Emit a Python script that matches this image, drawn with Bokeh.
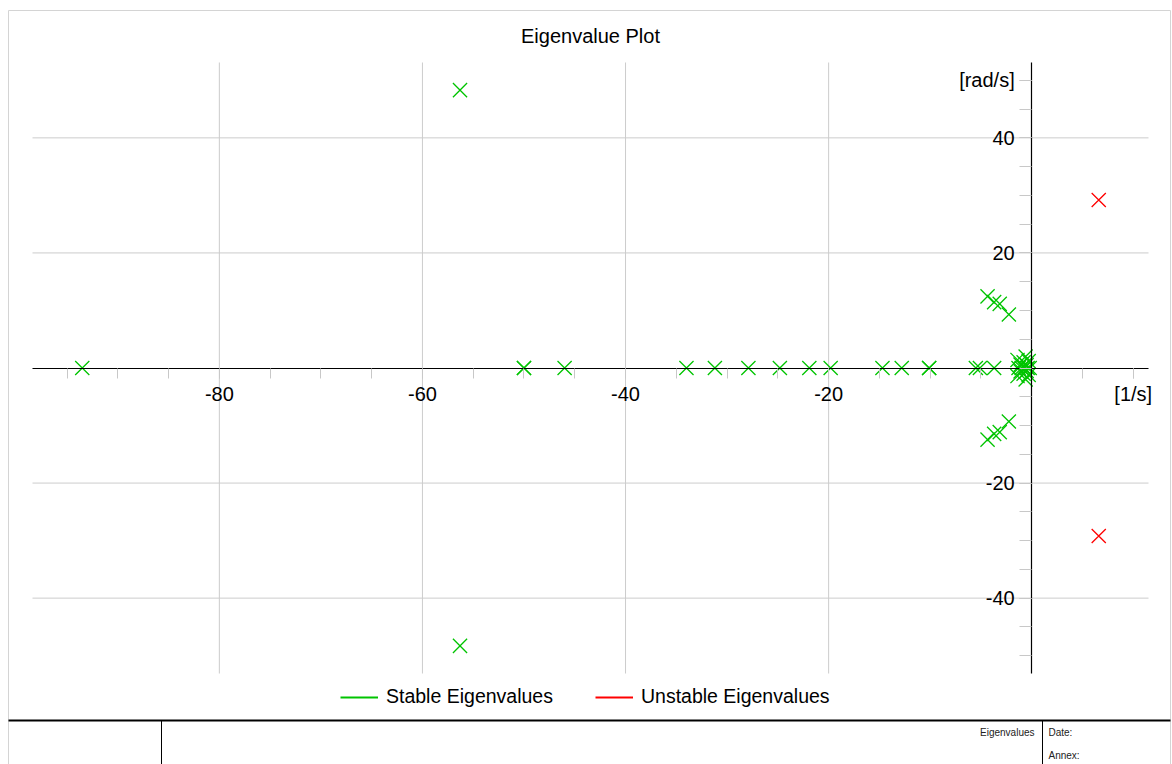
from bokeh.plotting import figure
from bokeh.models import FixedTicker, Legend, LegendItem, Range1d, ColumnDataSource, Label
from bokeh.core.properties import value
from bokeh.embed import file_html
from bokeh.resources import INLINE

# ---------------- data ----------------
stable_re = [-93.5, -50.0, -50.0, -46.0, -34.0, -31.2, -27.9, -24.8, -21.9, -19.8,
             -14.7, -12.8, -10.1, -10.1, -5.5, -5.1, -3.7,
             -56.3, -56.3,
             -4.35, -4.35, -3.7, -3.7, -3.15, -3.15, -2.25, -2.25,
             -1.3, -1.0, -0.7, -0.4, -0.2,
             -1.1, -1.1, -0.8, -0.8, -0.5, -0.5, -0.6, -0.6, -1.4, -1.4, -0.3, -0.3]
stable_im = [0, 0, 0, 0, 0, 0, 0, 0, 0, 0,
             0, 0, 0, 0, 0, 0, 0,
             48.3, -48.3,
             12.45, -12.45, 11.45, -11.45, 11.15, -11.15, 9.3, -9.3,
             0, 0, 0, 0, 0,
             0.6, -0.6, 1.0, -1.0, 0.5, -0.5, 2.0, -2.0, 1.4, -1.4, 1.2, -1.2]
unstable_re = [6.6, 6.6]
unstable_im = [29.2, -29.2]

x_tick_values = [-80, -60, -40, -20]
y_tick_values = [-40, -20, 20, 40]
x_unit_pos, x_unit_label = 10, "[1/s]"
y_unit_pos, y_unit_label = 50, "[rad/s]"
x_minor = list(range(-95, 11, 5))
y_minor = list(range(-50, 51, 5))
x_lo, x_hi = -98.4, 11.5
y_lo, y_hi = -53.1, 53.1

title_text = "Eigenvalue Plot"
legend_labels = ["Stable Eigenvalues", "Unstable Eigenvalues"]
block_texts = ["Eigenvalues", "Date:", "Annex:"]
green = "#00c400"
red = "#ff0000"
FONT = "Liberation Sans"

# ---------------- layout (pixels) ----------------
W, H = 1172, 764
PL, PR, PT, PB = 32, 1148, 62, 673       # plot area in canvas pixels
sx = (PR - PL) / (x_hi - x_lo)
sy = (PB - PT) / (y_hi - y_lo)
xr = Range1d(x_lo - PL / sx, x_hi + (W - PR) / sx)
yr = Range1d(y_lo - (H - PB) / sy, y_hi + PT / sy)

p = figure(width=W, height=H, output_backend="svg", toolbar_location=None,
           x_range=xr, y_range=yr,
           min_border=0, min_border_left=0, min_border_right=0,
           min_border_top=0, min_border_bottom=0)
p.extra_x_ranges = {"px": Range1d(0, W)}
p.extra_y_ranges = {"px": Range1d(H, 0)}
p.outline_line_color = None
p.background_fill_color = "white"
p.border_fill_color = "white"
p.grid.visible = False

def overrides(vals, extra_pos, extra_label):
    d = {}
    for v in vals:
        d[v] = str(v)
        d[str(v)] = str(v)
    d[extra_pos] = extra_label
    d[str(extra_pos)] = extra_label
    return d

xa = p.xaxis[0]
xa.fixed_location = 0
xa.bounds = (x_lo, x_hi)
xa.ticker = FixedTicker(ticks=x_tick_values + [x_unit_pos], minor_ticks=x_minor)
xa.major_label_overrides = overrides(x_tick_values, x_unit_pos, x_unit_label)
ya = p.yaxis[0]
ya.fixed_location = 0
ya.bounds = (y_lo, y_hi)
ya.ticker = FixedTicker(ticks=y_tick_values + [y_unit_pos], minor_ticks=y_minor)
ya.major_label_overrides = overrides(y_tick_values, y_unit_pos, y_unit_label)

for ax, tlen in ((xa, 10), (ya, 12)):
    ax.axis_line_color = "black"
    ax.axis_line_width = 1.2
    ax.major_tick_in = 0
    ax.minor_tick_in = 0
    ax.major_tick_out = tlen
    ax.minor_tick_out = tlen
    ax.major_tick_line_color = "#c8c8c8"
    ax.minor_tick_line_color = "#c8c8c8"
    ax.major_label_text_font = FONT
    ax.major_label_text_font_size = "20px"
    ax.major_label_text_color = "black"
    ax.major_label_standoff = 5

# grid lines at the major ticks, limited to the plot area
p.segment(x0=x_tick_values, y0=[y_lo] * len(x_tick_values),
          x1=x_tick_values, y1=[y_hi] * len(x_tick_values),
          line_color="#cccccc", line_width=1, level="underlay")
p.segment(x0=[x_lo] * len(y_tick_values), y0=y_tick_values,
          x1=[x_hi] * len(y_tick_values), y1=y_tick_values,
          line_color="#cccccc", line_width=1, level="underlay")

src_s = ColumnDataSource(dict(x=stable_re, y=stable_im))
src_u = ColumnDataSource(dict(x=unstable_re, y=unstable_im))
p.scatter("x", "y", source=src_s, marker="x", size=20, line_color=green, line_width=1.3)
p.scatter("x", "y", source=src_u, marker="x", size=20, line_color=red, line_width=1.3)

# title
p.add_layout(Label(x=590, y=35, x_range_name="px", y_range_name="px", text=title_text,
                   text_align="center", text_baseline="middle", text_font=FONT,
                   text_font_size="20px", text_color="black"))

# legend (line samples; renderers carry no visible points)
nan = float("nan")
l_s = p.line(x=[nan, nan], y=[nan, nan], line_color=green, line_width=2)
l_u = p.line(x=[nan, nan], y=[nan, nan], line_color=red, line_width=2)
legend = Legend(items=[LegendItem(label=legend_labels[0], renderers=[l_s]),
                       LegendItem(label=legend_labels[1], renderers=[l_u])],
                orientation="horizontal", location=(340, 56),
                glyph_width=38, glyph_height=20, label_standoff=8, spacing=42,
                padding=0, margin=0, border_line_color=None,
                background_fill_alpha=0,
                label_text_font=FONT, label_text_font_size="19.5px",
                label_text_color="black")
p.add_layout(legend)

# frame / title block lines (pixel coordinates)
p.segment(x0=[8, 8, 1170], y0=[10, 10, 10], x1=[1170, 8, 1170], y1=[10, H, H],
          line_color="#d4d4d4", line_width=1, x_range_name="px", y_range_name="px")
p.segment(x0=[8], y0=[720], x1=[1170], y1=[720], line_color="black", line_width=2,
          x_range_name="px", y_range_name="px")
p.segment(x0=[161, 1042], y0=[720, 720], x1=[161, 1042], y1=[H, H],
          line_color="black", line_width=1, x_range_name="px", y_range_name="px")
block_font = value(FONT)
p.text(x=[1034], y=[732], text=[block_texts[0]], text_align="right", text_baseline="middle",
       text_font=block_font, text_font_size="10px", text_color="#222222",
       x_range_name="px", y_range_name="px")
p.text(x=[1048, 1048], y=[732, 755], text=block_texts[1:], text_align="left",
       text_baseline="middle", text_font=block_font, text_font_size="10px", text_color="#222222",
       x_range_name="px", y_range_name="px")

open("out.html", "w").write(file_html(p, INLINE))
